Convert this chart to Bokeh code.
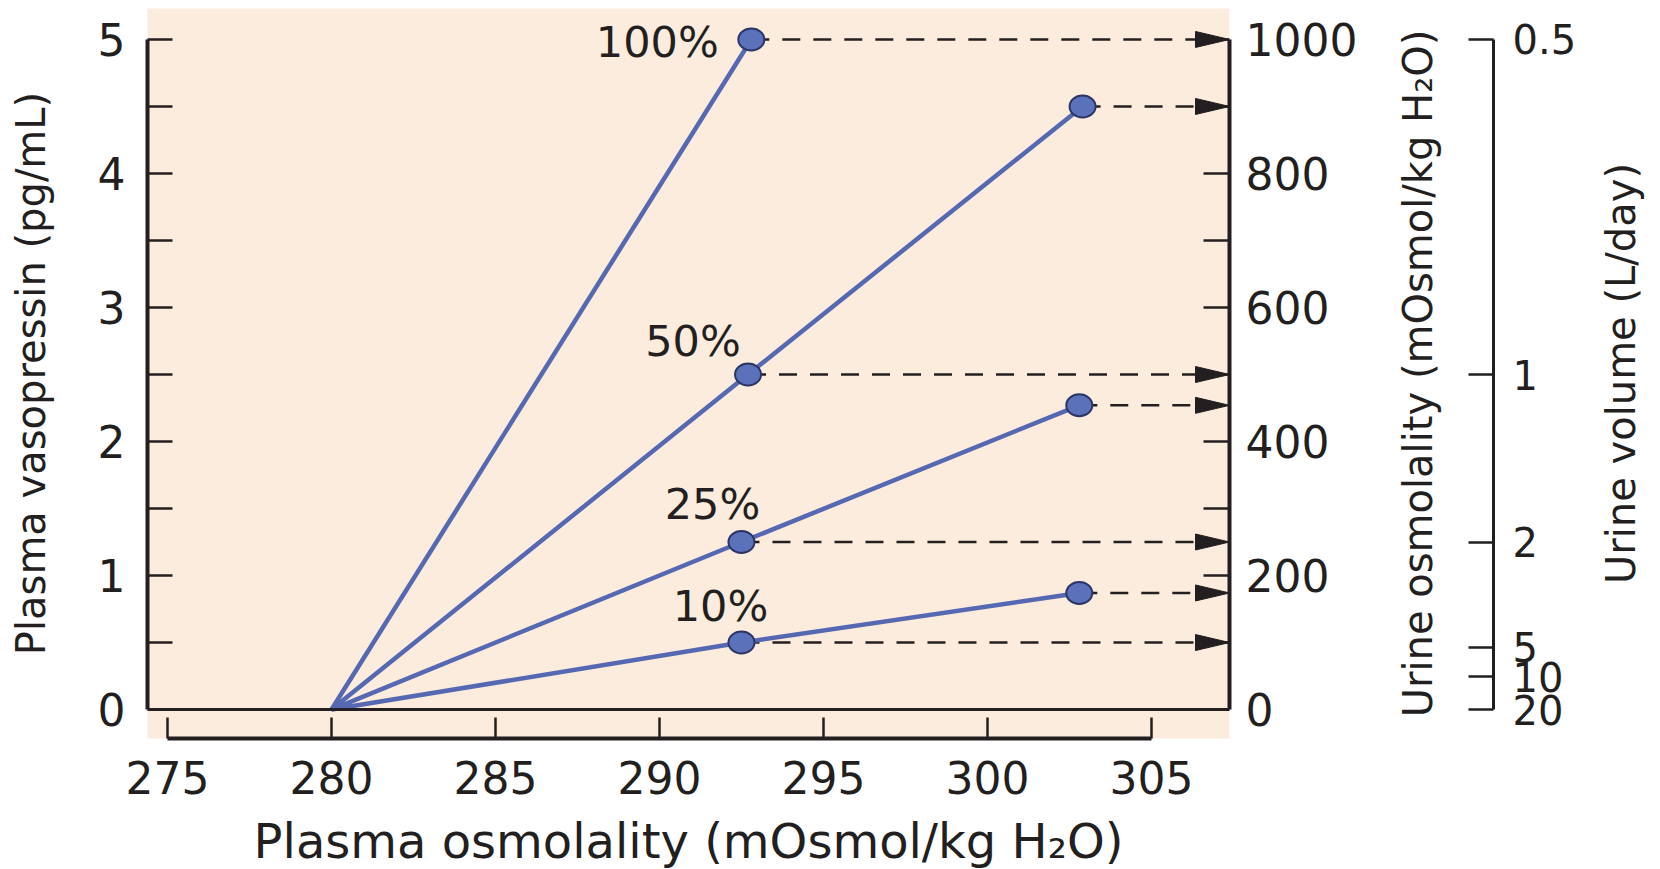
from bokeh.plotting import figure
from bokeh.layouts import row
from bokeh.models import Range1d, LinearAxis, FixedTicker, Span
from bokeh.core.properties import value
from bokeh.embed import file_html
from bokeh.resources import INLINE

# ---------------- data ----------------
x_ticks = [275, 280, 285, 290, 295, 300, 305]
vp_ticks = [0, 1, 2, 3, 4, 5]
vp_minor = [0.5, 1.5, 2.5, 3.5, 4.5]
osm_ticks = [0, 200, 400, 600, 800, 1000]
osm_minor = [100, 300, 500, 700, 900]
vol_labels = ["0.5", "1", "2", "5", "10", "20"]
vol_tick_osm = [1000, 500, 250, 93, 49, 0]

threshold_x = 280.0          # plasma osmolality where vasopressin starts
threshold_vp = 0.0
pct_labels = ["100%", "50%", "25%", "10%"]
mid_x = [292.8, 292.7, 292.5, 292.5]
mid_vp = [5.0, 2.5, 1.25, 0.5]
high_x = [302.9, 302.8, 302.8]          # for 50%, 25%, 10%
high_vp = [4.5, 2.27, 0.87]

osm_per_vp = 1000 / 5        # right scale: 0..1000 mOsmol/kg  <->  0..5 pg/mL

x_title = "Plasma osmolality (mOsmol/kg H\u2082O)"
y_title = "Plasma vasopressin (pg/mL)"
osm_title = "Urine osmolality (mOsmol/kg H\u2082O)"
vol_title = "Urine volume (L/day)"

# ---------------- style / layout ----------------
DARK = "#231f20"
BLUE = "#5668b2"
PEACH = "#fcecdd"
FONT = "DejaVu Sans"
FRAME_W, FRAME_H = 1082, 730
TOP, BOTTOM = 8, 131
LEFT = 147
X0, X1 = 274.39, 307.38
Y0, Y1 = -0.216, 5.231
px_x = FRAME_W / (X1 - X0)
px_y = FRAME_H / (Y1 - Y0)

p = figure(frame_width=FRAME_W, frame_height=FRAME_H,
           x_range=Range1d(X0, X1), y_range=Range1d(Y0, Y1),
           output_backend="svg", toolbar_location=None,
           min_border_left=LEFT, min_border_top=TOP, min_border_bottom=BOTTOM,
           min_border_right=151)
p.background_fill_color = PEACH
p.border_fill_color = "white"
p.outline_line_color = None
p.xgrid.visible = False
p.ygrid.visible = False
osm_range = Range1d(Y0 * osm_per_vp, Y1 * osm_per_vp)
p.extra_y_ranges = {"osm": osm_range}


def style_axis(ax, label_size, tick_in, line_w):
    ax.axis_line_color = DARK
    ax.axis_line_width = line_w
    ax.major_tick_line_color = DARK
    ax.minor_tick_line_color = DARK
    ax.major_tick_line_width = 2.5
    ax.minor_tick_line_width = 2.5
    ax.major_tick_in = tick_in
    ax.major_tick_out = 0
    ax.minor_tick_in = tick_in
    ax.minor_tick_out = 0
    ax.major_label_text_font = FONT
    ax.major_label_text_font_size = label_size
    ax.major_label_text_color = DARK
    ax.axis_label_text_font = FONT
    ax.axis_label_text_font_style = "normal"
    ax.axis_label_text_color = DARK


# left axis
ya = p.yaxis[0]
ya.bounds = (vp_ticks[0], vp_ticks[-1])
ya.ticker = FixedTicker(ticks=vp_ticks, minor_ticks=vp_minor)
style_axis(ya, "44px", 25, 4)
ya.major_label_standoff = 22
ya.axis_label = y_title
ya.axis_label_text_font_size = "40px"
ya.axis_label_standoff = 41

# bottom axis
xa = p.xaxis[0]
xa.bounds = (x_ticks[0], x_ticks[-1])
xa.ticker = FixedTicker(ticks=x_ticks, minor_ticks=[])
style_axis(xa, "44px", 21, 4)
xa.major_label_standoff = 22
xa.axis_label = x_title
xa.axis_label_text_font_size = "48px"
xa.axis_label_standoff = 16

# right axis: urine osmolality ticks and numbers
ra = LinearAxis(y_range_name="osm", bounds=(osm_ticks[0], osm_ticks[-1]),
                ticker=FixedTicker(ticks=osm_ticks, minor_ticks=osm_minor))
style_axis(ra, "44px", 26, 4)
ra.major_label_standoff = 16
p.add_layout(ra, "right")

# baseline at vasopressin = 0
p.add_layout(Span(location=0, dimension="width", line_color=DARK, line_width=3))

# dashed arrows to the urine osmolality scale
all_x = mid_x + high_x
all_vp = mid_vp + high_vp
head_len = 34 / px_x
head_half = 8 / px_y
tip_x = X1
p.segment(x0=all_x, y0=all_vp, x1=[tip_x - head_len] * len(all_x), y1=all_vp,
          line_color=DARK, line_width=2.5, line_dash="18 13")
p.patches(xs=[[tip_x - head_len, tip_x, tip_x - head_len] for _ in all_vp],
          ys=[[v + head_half, v, v - head_half] for v in all_vp],
          fill_color=DARK, line_color=DARK, line_width=1)

# response lines
xs = [[threshold_x, mid_x[0]]] + [[threshold_x, mid_x[i + 1], high_x[i]] for i in range(3)]
ys = [[threshold_vp, mid_vp[0]]] + [[threshold_vp, mid_vp[i + 1], high_vp[i]] for i in range(3)]
p.multi_line(xs=xs, ys=ys, line_color=BLUE, line_width=4.5, line_join="round")

# points
p.ellipse(x=all_x, y=all_vp, width=26, height=22, width_units="screen",
          height_units="screen", fill_color="#5b72bb", line_color="#2c3566",
          line_width=2)

# percent labels
label_dx = [-94, -55, -29, -21]
label_dy = [3, -34, -38, -37]
p.text(x=mid_x, y=mid_vp, text=pct_labels, x_offset=label_dx, y_offset=label_dy,
       text_align="center", text_baseline="middle", text_font=value(FONT),
       text_font_size="43px", text_color=DARK)


def title_panel(title, border_left, frame_w, border_right):
    """A blank strip whose (invisible) left axis carries a rotated title."""
    f = figure(frame_width=frame_w, frame_height=FRAME_H,
               x_range=Range1d(0, 1), y_range=p.y_range,
               output_backend="svg", toolbar_location=None,
               x_axis_location=None, y_axis_location="left",
               min_border_left=border_left, min_border_right=border_right,
               min_border_top=TOP, min_border_bottom=BOTTOM)
    f.extra_y_ranges = {"osm": osm_range}
    f.background_fill_color = "white"
    f.border_fill_color = "white"
    f.outline_line_color = None
    f.xgrid.visible = False
    f.ygrid.visible = False
    ax = f.yaxis[0]
    ax.ticker = FixedTicker(ticks=[], minor_ticks=[])
    ax.axis_line_color = None
    ax.major_tick_line_color = None
    ax.minor_tick_line_color = None
    ax.major_label_standoff = 0
    ax.axis_label = title
    ax.axis_label_standoff = 0
    ax.axis_label_text_font = FONT
    ax.axis_label_text_font_style = "normal"
    ax.axis_label_text_font_size = "40px"
    ax.axis_label_text_color = DARK
    return f


# strip with the urine osmolality title and the urine volume scale
p2 = title_panel(osm_title, 60, 53, 97)
va = LinearAxis(y_range_name="osm", bounds=(osm_ticks[0], osm_ticks[-1]),
                ticker=FixedTicker(ticks=vol_tick_osm, minor_ticks=[]))
style_axis(va, "40px", 25, 3)
va.major_label_overrides = {t: lab for t, lab in zip(vol_tick_osm, vol_labels)}
va.major_label_standoff = 19
p2.add_layout(va, "right")

# strip with the urine volume title
p3 = title_panel(vol_title, 53, 17, 0)

layout = row(p, p2, p3, spacing=0)
open("out.html", "w").write(file_html(layout, INLINE))
